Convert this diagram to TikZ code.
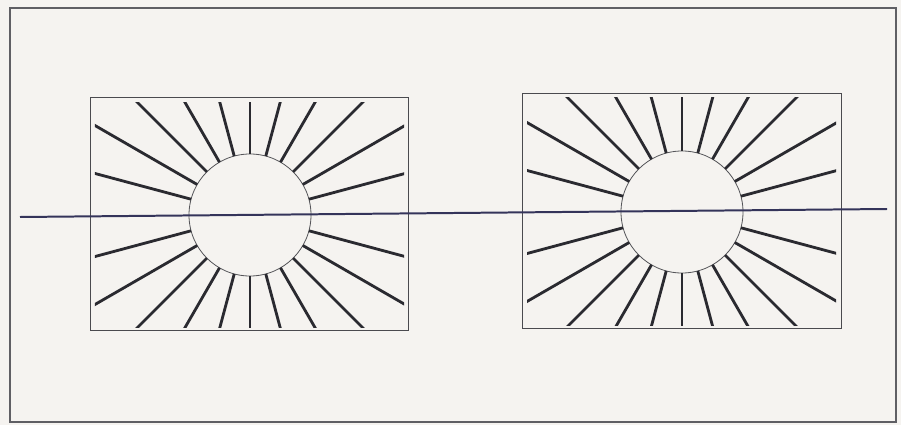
\documentclass[tikz,border=0pt]{standalone}
\usepackage{tikz}
\usetikzlibrary{calc}

\definecolor{paper}{HTML}{F5F3F0}
\definecolor{ink}{HTML}{2A2A30}
\definecolor{rule}{HTML}{34345A}

\begin{document}
\begin{tikzpicture}[
    x=0.03cm, y=-0.03cm,
    panel/.style={draw=ink!85, line width=0.8pt, inner sep=0pt, outer sep=0pt},
    sun/.style={circle, draw=ink!80, line width=0.7pt, minimum size=3.66cm, inner sep=0pt, outer sep=0pt},
    ray/.style={draw=ink, line width=2.4pt},
    axis/.style={draw=rule, line width=1.7pt}
]
\useasboundingbox (0,0) rectangle (901,425);
\fill[paper] (0,0) rectangle (901,425);

% outer frame
\draw[ink!75, line width=1.1pt] (10,8) rectangle (896,422);

% left panel
\node[panel, minimum width=9.54cm, minimum height=6.99cm] (lbox) at (249,213.5) {};
\node[sun] (lsun) at (250,215) {};
\begin{scope}
    \clip ([shift={(5,6)}]lbox.north west) rectangle ([shift={(-4,-3)}]lbox.south east);
    \foreach \a in {15,30,...,165,195,210,...,345}
        \draw[ray] (lsun.\a) -- ($(lsun.center)!4!(lsun.\a)$);
\end{scope}

% right panel
\node[panel, minimum width=9.57cm, minimum height=7.05cm] (rbox) at (681.5,210.5) {};
\node[sun] (rsun) at (682,212) {};
\begin{scope}
    \clip ([shift={(5,5)}]rbox.north west) rectangle ([shift={(-5,-3)}]rbox.south east);
    \foreach \a in {15,30,...,165,195,210,...,345}
        \draw[ray] (rsun.\a) -- ($(rsun.center)!4!(rsun.\a)$);
\end{scope}

% horizontal line through both suns
\coordinate (hl) at (20,217);
\coordinate (hr) at (887,209);
\draw[axis] (hl) -- (hr);
\end{tikzpicture}
\end{document}
